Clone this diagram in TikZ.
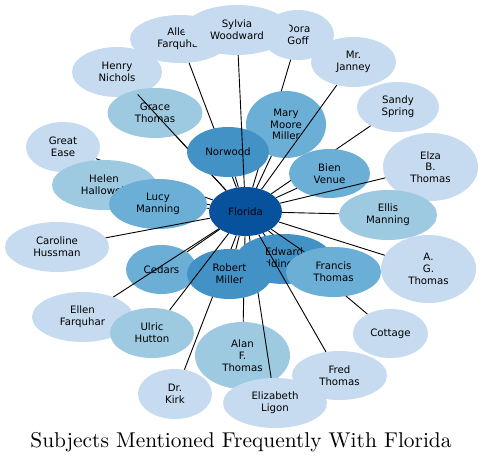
\documentclass[tikz,border=0pt]{standalone}
\usepackage{fontspec}
\newfontfamily\bubfont{DejaVu Sans}
\newfontfamily\titlefont{lmroman10-regular}[Extension=.otf]
\usetikzlibrary{shapes.geometric}
\definecolor{paleblue}{HTML}{C6DBEF}
\definecolor{lightblue}{HTML}{9ECAE1}
\definecolor{midblue}{HTML}{6BAED6}
\definecolor{deepblue}{HTML}{4292C6}
\definecolor{coreblue}{HTML}{08519C}
\begin{document}
\begin{tikzpicture}[x=1pt,y=-1pt,
  bub/.style={ellipse,inner sep=0pt,align=center,minimum height=50pt,
    font=\bubfont\fontsize{10.2}{11.8}\selectfont},
  wd/.style={minimum width=#1pt},
  tall/.style={minimum height=67pt},
  pale/.style={bub,fill=paleblue},
  light/.style={bub,fill=lightblue},
  mid/.style={bub,fill=midblue},
  deep/.style={bub,fill=deepblue},
  core/.style={bub,fill=coreblue},
  link/.style={draw=black,line width=0.9pt}]
\useasboundingbox (0,0) rectangle (483,463);

\node[core,wd=73,minimum height=49pt] (florida) at (245.5,211.5) {Florida};

\node[pale,wd=90] (henry) at (117,72) {Henry\\Nichols};
\node[light,wd=95] (grace) at (155,113) {Grace\\Thomas};
\node[pale,wd=100,minimum height=48pt] (allen) at (180,39) {Allen\\Farquhar};
\node[pale,wd=72] (dora) at (298,35) {Dora\\Goff};
\node[pale,wd=106] (sylvia) at (237,30) {Sylvia\\Woodward};
\node[pale,wd=85] (janney) at (353.5,62) {Mr.\\Janney};
\node[pale,wd=82] (sandy) at (398,107) {Sandy\\Spring};
\node[pale,wd=95,minimum height=68pt] (elza) at (430.5,167) {Elza\\B.\\Thomas};
\node[light,wd=98] (ellis) at (388,215) {Ellis\\Manning};
\node[pale,wd=95,minimum height=68pt] (agt) at (428.5,269) {A.\\G.\\Thomas};
\node[pale,wd=75,minimum height=49pt] (cottage) at (390.5,333.5) {Cottage};
\node[pale,wd=95,minimum height=49pt] (fred) at (339.5,375.5) {Fred\\Thomas};
\node[light,wd=95,tall] (alan) at (242.5,355.5) {Alan\\F.\\Thomas};
\node[pale,wd=104] (ligon) at (275,403) {Elizabeth\\Ligon};
\node[pale,wd=74] (kirk) at (175,394) {Dr.\\Kirk};
\node[pale,wd=101] (ellen) at (82.5,317) {Ellen\\Farquhar};
\node[light,wd=84] (ulric) at (152,333) {Ulric\\Hutton};
\node[pale,wd=104] (caroline) at (57,247) {Caroline\\Hussman};
\node[pale,wd=74] (ease) at (63,147) {Great\\Ease};

\draw[link] (florida) -- (henry);
\draw[link] (florida) -- (allen);
\draw[link] (florida) -- (grace);
\draw[link] (florida) -- (ease);
\draw[link] (florida) -- (dora);
\draw[link] (florida) -- (sandy);
\draw[link] (florida) -- (cottage);
\draw[link] (florida) -- (alan);
\draw[link] (florida) -- (kirk);
\draw[link] (florida) -- (ligon);

\node[light,wd=104] (helen) at (104,185) {Helen\\Hallowell};
\draw[link] (florida) -- (helen);
\node[mid,wd=98] (lucy) at (158,204) {Lucy\\Manning};
\node[mid,wd=71,minimum height=49pt] (cedars) at (161.5,269.5) {Cedars};
\node[deep,wd=96] (edward) at (284,259) {Edward\\Addington};
\node[deep,wd=85] (robert) at (229.5,274) {Robert\\Miller};
\node[mid,wd=95] (francis) at (333.5,272) {Francis\\Thomas};
\node[mid,wd=80,tall] (mary) at (286,124.5) {Mary\\Moore\\Miller};
\node[mid,wd=81,minimum height=49pt] (bien) at (329.5,173.5) {Bien\\Venue};
\node[deep,wd=82] (norwood) at (228,152) {Norwood};

\draw[link] (florida) -- (sylvia);
\draw[link] (florida) -- (janney);
\draw[link] (florida) -- (mary);
\draw[link] (florida) -- (bien);
\draw[link] (florida) -- (elza);
\draw[link] (florida) -- (ellis);
\draw[link] (florida) -- (agt);
\draw[link] (florida) -- (francis);
\draw[link] (florida) -- (edward);
\draw[link] (florida) -- (fred);
\draw[link] (florida) -- (robert);
\draw[link] (florida) -- (ulric);
\draw[link] (florida) -- (cedars);
\draw[link] (florida) -- (ellen);
\draw[link] (florida) -- (caroline);
\draw[link] (florida) -- (lucy);
\draw[link] (florida) -- (norwood);

\node[anchor=base,font=\titlefont\fontsize{21.4}{24}\selectfont] (title) at (241,447.5)
  {Subjects Mentioned Frequently With Florida};
\end{tikzpicture}
\end{document}
